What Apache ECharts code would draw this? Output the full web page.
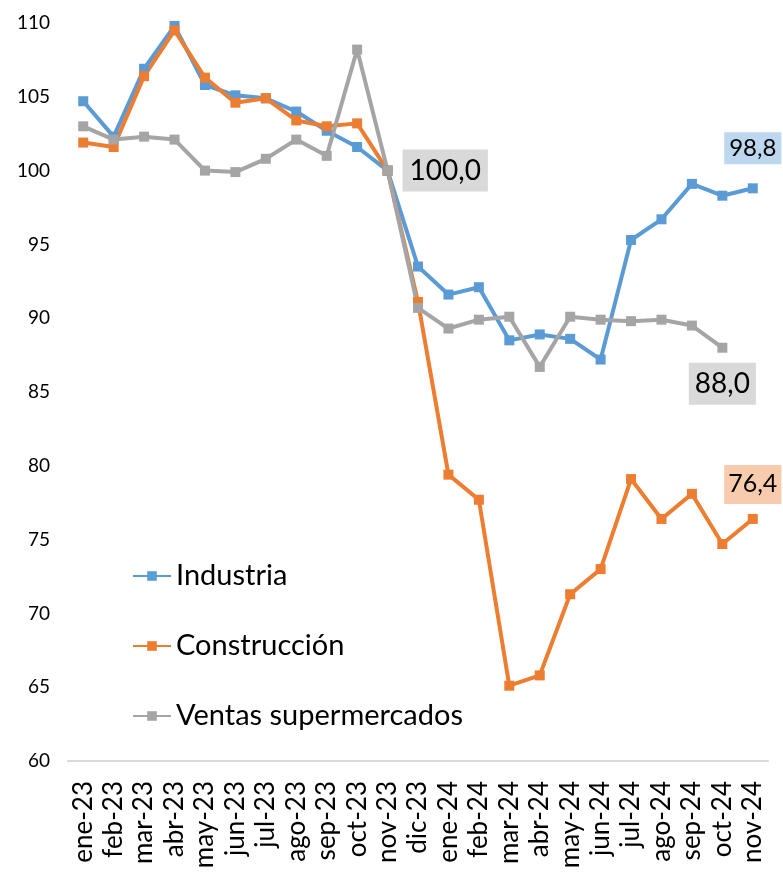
<!DOCTYPE html>
<html>
<head>
<meta charset="utf-8">
<script src="https://cdn.jsdelivr.net/npm/echarts@6/dist/echarts.min.js"></script>
<style>
  html, body { margin: 0; padding: 0; background: #fff; }
  #chart { width: 783px; height: 876px; }
</style>
</head>
<body>
<div id="chart"></div>
<script>
// meses
const meses = ['ene-23','feb-23','mar-23','abr-23','may-23','jun-23','jul-23','ago-23','sep-23','oct-23','nov-23','dic-23',
  'ene-24','feb-24','mar-24','abr-24','may-24','jun-24','jul-24','ago-24','sep-24','oct-24','nov-24'];

const industria = [104.7, 102.3, 106.9, 109.8, 105.8, 105.1, 104.9, 104.0, 102.7, 101.6, 100.0, 93.5,
  91.6, 92.1, 88.5, 88.9, 88.6, 87.2, 95.3, 96.7, 99.1, 98.3, 98.8];
const construccion = [101.9, 101.6, 106.4, 109.5, 106.3, 104.6, 104.9, 103.4, 103.0, 103.2, 100.0, 91.1,
  79.4, 77.7, 65.1, 65.8, 71.3, 73.0, 79.1, 76.4, 78.1, 74.7, 76.4];
const supermercados = [103.0, 102.1, 102.3, 102.1, 100.0, 99.9, 100.8, 102.1, 101.0, 108.2, 100.0, 90.7,
  89.3, 89.9, 90.1, 86.7, 90.1, 89.9, 89.8, 89.9, 89.5, 88.0, null];

const yTicks = { min: 60, max: 110, step: 5 };

const fuente = 'Lato, "Liberation Sans", sans-serif';
const fmt = v => v.toFixed(1).replace('.', ',');

// etiqueta con caja de fondo para un punto
function etiqueta(arr, idx, opts) {
  return arr.map((v, i) => {
    if (i !== idx) return v;
    return {
      value: v,
      label: Object.assign({
        show: true,
        formatter: p => fmt(p.value),
        color: '#000',
        fontFamily: fuente
      }, opts)
    };
  });
}

const chart = echarts.init(document.getElementById('chart'));

chart.setOption({
  animation: false,
  backgroundColor: '#fff',
  grid: { left: 68, right: 15, top: 23, bottom: 115 },
  legend: {
    orient: 'vertical',
    left: 127,
    top: 556,
    itemWidth: 38,
    itemHeight: 12,
    itemGap: 40,
    textStyle: { fontSize: 29, color: '#000', fontFamily: fuente, lineHeight: 30 },
    data: ['Industria', 'Construcción', 'Ventas supermercados']
  },
  xAxis: {
    type: 'category',
    data: meses,
    boundaryGap: true,
    axisLine: { lineStyle: { color: '#d9d9d9', width: 2 } },
    axisTick: { show: false },
    axisLabel: { rotate: 90, fontSize: 26, color: '#000', fontFamily: fuente, margin: 20, interval: 0 }
  },
  yAxis: {
    type: 'value',
    min: yTicks.min,
    max: yTicks.max,
    interval: yTicks.step,
    axisLine: { show: false },
    axisTick: { show: false },
    splitLine: { show: false },
    axisLabel: { fontSize: 19, color: '#000', fontFamily: fuente, margin: 18 }
  },
  series: [
    {
      name: 'Industria',
      type: 'line',
      symbol: 'rect',
      symbolSize: 10,
      color: '#5b9bd5',
      lineStyle: { width: 4 },
      data: etiqueta(industria, 22, {
        position: 'top', distance: 19, fontSize: 24,
        backgroundColor: '#bdd7ee', padding: [4, 5]
      })
    },
    {
      name: 'Construcción',
      type: 'line',
      symbol: 'rect',
      symbolSize: 10,
      color: '#ed7d31',
      lineStyle: { width: 4 },
      data: etiqueta(construccion, 22, {
        position: 'top', distance: 10, fontSize: 25,
        backgroundColor: '#f8cbad', padding: [7, 4]
      })
    },
    {
      name: 'Ventas supermercados',
      type: 'line',
      symbol: 'rect',
      symbolSize: 10,
      color: '#a5a5a5',
      lineStyle: { width: 4 },
      connectNulls: false,
      data: etiqueta(supermercados, 10, {
        position: 'right', distance: 10, fontSize: 28,
        backgroundColor: '#d9d9d9', padding: [7, 7]
      }).map((d, i) => i !== 21 ? d : {
        value: d,
        label: {
          show: true, position: 'bottom', distance: 10, fontSize: 28,
          formatter: p => fmt(p.value), color: '#000', fontFamily: fuente,
          backgroundColor: '#d9d9d9', padding: [7, 6]
        }
      })
    }
  ]
});
</script>
</body>
</html>
